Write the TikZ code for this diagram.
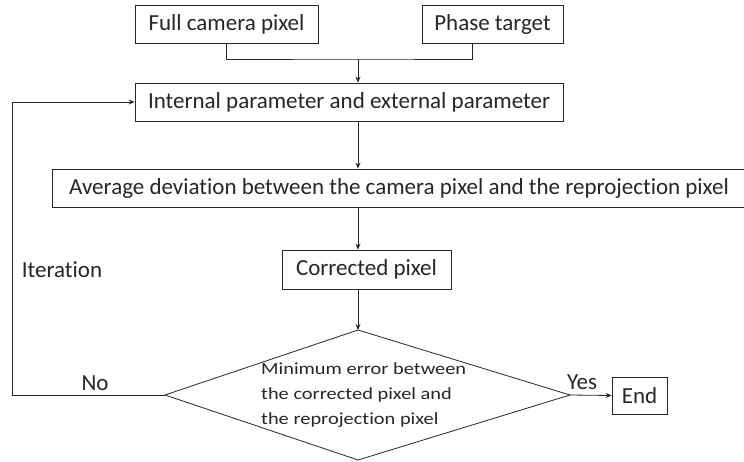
\documentclass[tikz,border=0pt]{standalone}
\usepackage{fontspec}
\setmainfont{Carlito}[Ligatures={NoCommon,TeX}]
\usetikzlibrary{arrows.meta,shapes.geometric}
\begin{document}
\begin{tikzpicture}[x=1pt,y=-1pt,
  box/.style={draw=black!85,line width=0.8pt,inner sep=0pt,font=\fontsize{23}{26}\selectfont,text=black!85},
  lbl/.style={font=\fontsize{23}{26}\selectfont,text=black!85,inner sep=0pt},
  arr/.style={draw=black!85,line width=0.8pt,-{Stealth[length=6pt,width=5pt]}},
  ln/.style={draw=black!85,line width=0.8pt}]
\useasboundingbox (0,0) rectangle (744,461);
\node[box,minimum width=183,minimum height=38] (full) at (226.5,24) {Full camera pixel};
\node[box,minimum width=141,minimum height=38] (phase) at (492.5,24) {Phase target};
\node[box,minimum width=428,minimum height=38] (int) at (349,102) {Internal parameter and external parameter};
\node[box,minimum width=694,minimum height=38] (avg) at (399,188) {Average deviation between the camera pixel and the reprojection pixel};
\node[box,minimum width=169,minimum height=39] (cor) at (366.5,269.5) {Corrected pixel};
\coordinate (dt) at (358,330);
\coordinate (db) at (358,460);
\coordinate (dl) at (165,395);
\coordinate (dr) at (570,395);
\draw[ln] (dt) -- (dr) -- (db) -- (dl) -- cycle;
\node[lbl,align=left,anchor=north west,font=\fontsize{17}{25}\selectfont] (dtext) at (261,362) {\scalebox{1.2}[1]{Minimum error between}\\\scalebox{1.2}[1]{the corrected pixel and}\\\scalebox{1.2}[1]{the reprojection pixel}};
\node[box,minimum width=55,minimum height=37] (end) at (639.5,395.5) {End};
\node[lbl] (yes) at (582,382) {Yes};
\node[lbl] (no) at (95,383) {No};
\node[lbl] (iter) at (62,270) {Iteration};
\coordinate (m) at (358,59);
\coordinate (pj) at (472,59);
\coordinate (lc) at (12,395);
\draw[ln] (full.south) |- (m) -- (pj) -- (phase.south -| pj);
\draw[arr] (m) -- (int.north -| m);
\draw[arr] (int.south -| m) -- (avg.north -| m);
\draw[arr] (avg.south -| m) -- (cor.north -| m);
\draw[arr] (cor.south -| m) -- (dt);
\draw[arr] (dr) -- (end.west);
\draw[arr] (dl) -- (lc) |- (int.west);
\end{tikzpicture}
\end{document}
